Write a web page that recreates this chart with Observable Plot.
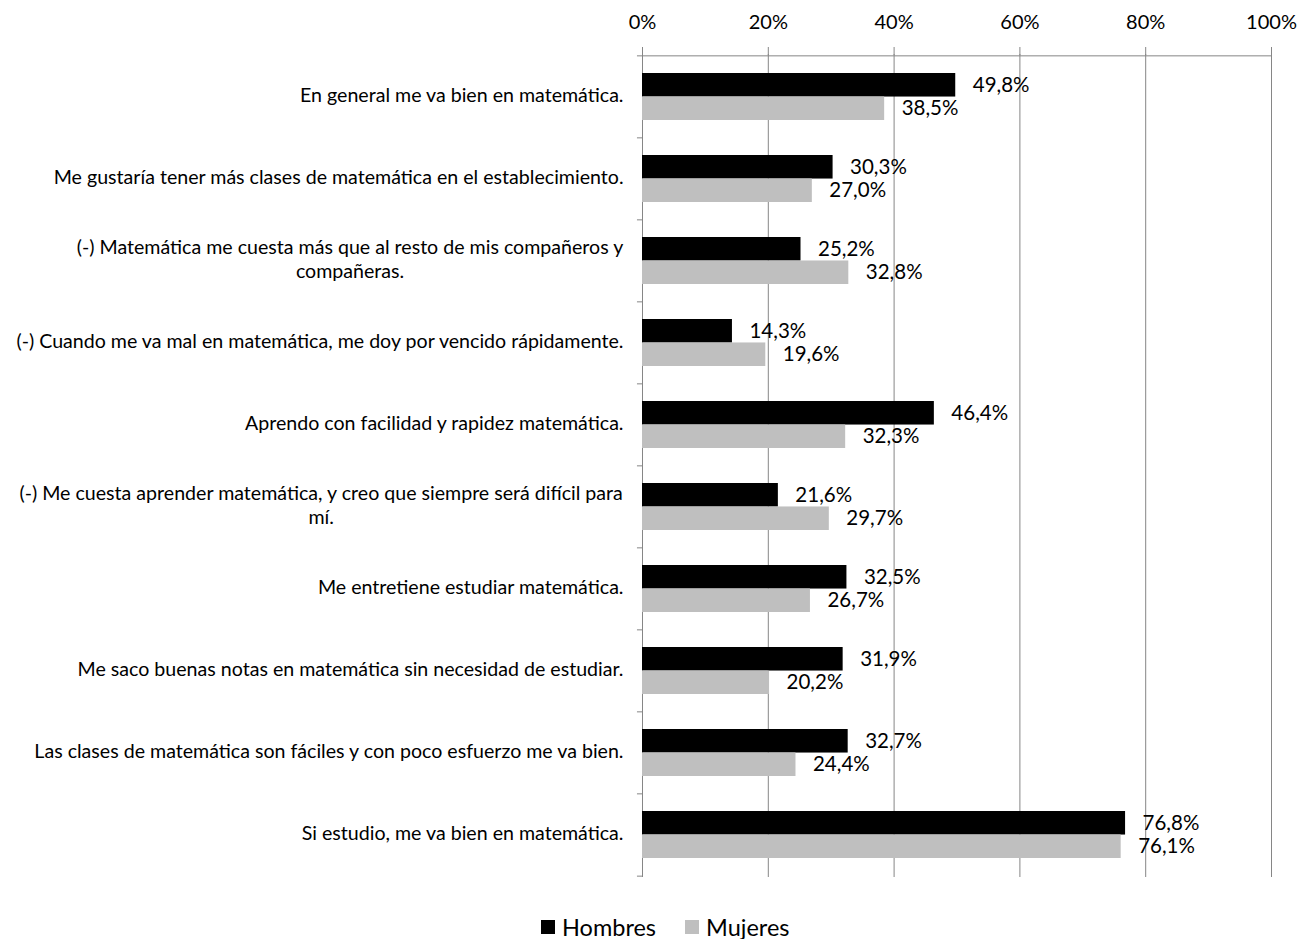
<!DOCTYPE html>
<html>
<head>
<meta charset="utf-8">
<script src="https://cdn.jsdelivr.net/npm/d3@7"></script>
<script src="https://cdn.jsdelivr.net/npm/@observablehq/plot@0.6"></script>
<style>
  html, body { margin: 0; padding: 0; background: white; }
  #wrap { position: relative; width: 1298px; height: 939px; font-family: Lato, "Open Sans", sans-serif; }
  #legend { position: absolute; left: 541px; top: 913px; display: flex; align-items: center; font-size: 23.5px; color: #000; }
  #legend .sw { width: 14px; height: 14px; display: inline-block; margin-right: 7px; }
  #legend .item { display: flex; align-items: center; margin-right: 29px; }
  g[aria-label="x-axis"] line, g[aria-label="x-axis"] path,
  g[aria-label="x-axis tick"] path, g[aria-label="x-axis tick"] line { stroke: #868686; }
</style>
</head>
<body>
<div id="wrap">
  <div id="chart"></div>
  <div id="legend"></div>
</div>
<script>
const categories = [
  "En general me va bien en matemática.",
  "Me gustaría tener más clases de matemática en el establecimiento.",
  "(-) Matemática me cuesta más que al resto de mis compañeros y\ncompañeras.",
  "(-) Cuando me va mal en matemática, me doy por vencido rápidamente.",
  "Aprendo con facilidad y rapidez matemática.",
  "(-) Me cuesta aprender matemática, y creo que siempre será difícil para\nmí.",
  "Me entretiene estudiar matemática.",
  "Me saco buenas notas en matemática sin necesidad de estudiar.",
  "Las clases de matemática son fáciles y con poco esfuerzo me va bien.",
  "Si estudio, me va bien en matemática."
];
const hombres = [49.8, 30.3, 25.2, 14.3, 46.4, 21.6, 32.5, 31.9, 32.7, 76.8];
const mujeres = [38.5, 27.0, 32.8, 19.6, 32.3, 29.7, 26.7, 20.2, 24.4, 76.1];
const seriesNames = ["Hombres", "Mujeres"];
const seriesColors = ["#000000", "#bfbfbf"];
const xTicks = [0, 20, 40, 60, 80, 100];

const W = 1298, H = 890, mT = 54, mB = H - 877, mL = 642, mR = 1298 - 1271;
const pInner = 0.43, pOuter = pInner / 2;
const step = (H - mT - mB) / categories.length;
const bw = step * (1 - pInner);
const gray = "#868686";
const fmt = v => v.toFixed(1).replace(".", ",") + "%";

const rowsH = categories.map((c, i) => ({cat: c, v: hombres[i]}));
const rowsM = categories.map((c, i) => ({cat: c, v: mujeres[i]}));

const labelFont = 19.6;
const ctx = document.createElement("canvas").getContext("2d");
ctx.font = labelFont + "px Lato";
const labelMarks = categories.map(c => {
  const lines = c.split("\n");
  if (lines.length === 1) {
    return Plot.text([c], {x: 0, y: d => d, text: d => d, textAnchor: "end", dx: -19, dy: -1, fontSize: labelFont, fill: "#000"});
  }
  const w = Math.max(...lines.map(l => ctx.measureText(l).width));
  return Plot.text([c], {x: 0, y: d => d, text: d => d, textAnchor: "middle", dx: -19 - w / 2, dy: -3, lineHeight: 1.23, fontSize: labelFont, fill: "#000"});
});

const chart = Plot.plot({
  width: W, height: H,
  marginTop: mT, marginBottom: mB, marginLeft: mL, marginRight: mR,
  style: {fontFamily: "Lato, 'Open Sans', sans-serif", fontSize: "20px", background: "white", color: "#000", overflow: "visible"},
  x: {domain: [0, 100], ticks: xTicks, tickFormat: d => d + "%", axis: "top", tickSize: 8, tickPadding: 18, label: null},
  y: {domain: categories, axis: null, paddingInner: pInner, paddingOuter: pOuter},
  marks: [
    Plot.ruleX(xTicks, {stroke: gray, strokeWidth: 1}),
    Plot.ruleY([categories[0]], {dy: -step / 2, stroke: gray}),
    Plot.ruleY(categories, {y: d => d, x1: -0.8, x2: 0, dy: -step / 2, stroke: gray}),
    Plot.ruleY([categories[categories.length - 1]], {y: d => d, x1: -0.8, x2: 0, dy: step / 2, stroke: gray}),
    Plot.barX(rowsH, {x: "v", y: "cat", fill: seriesColors[0], insetBottom: bw / 2}),
    Plot.barX(rowsM, {x: "v", y: "cat", fill: seriesColors[1], insetTop: bw / 2}),
    Plot.text(rowsH, {x: "v", y: "cat", text: d => fmt(d.v), textAnchor: "start", dx: 17, dy: -bw / 4, fontSize: 20.5, fill: "#000"}),
    Plot.text(rowsM, {x: "v", y: "cat", text: d => fmt(d.v), textAnchor: "start", dx: 17, dy: bw / 4, fontSize: 20.5, fill: "#000"}),
    ...labelMarks
  ]
});
document.getElementById("chart").appendChild(chart);

const legend = document.getElementById("legend");
seriesNames.forEach((n, i) => {
  const item = document.createElement("div");
  item.className = "item";
  item.innerHTML = `<span class="sw" style="background:${seriesColors[i]}"></span><span>${n}</span>`;
  legend.appendChild(item);
});
</script>
</body>
</html>
